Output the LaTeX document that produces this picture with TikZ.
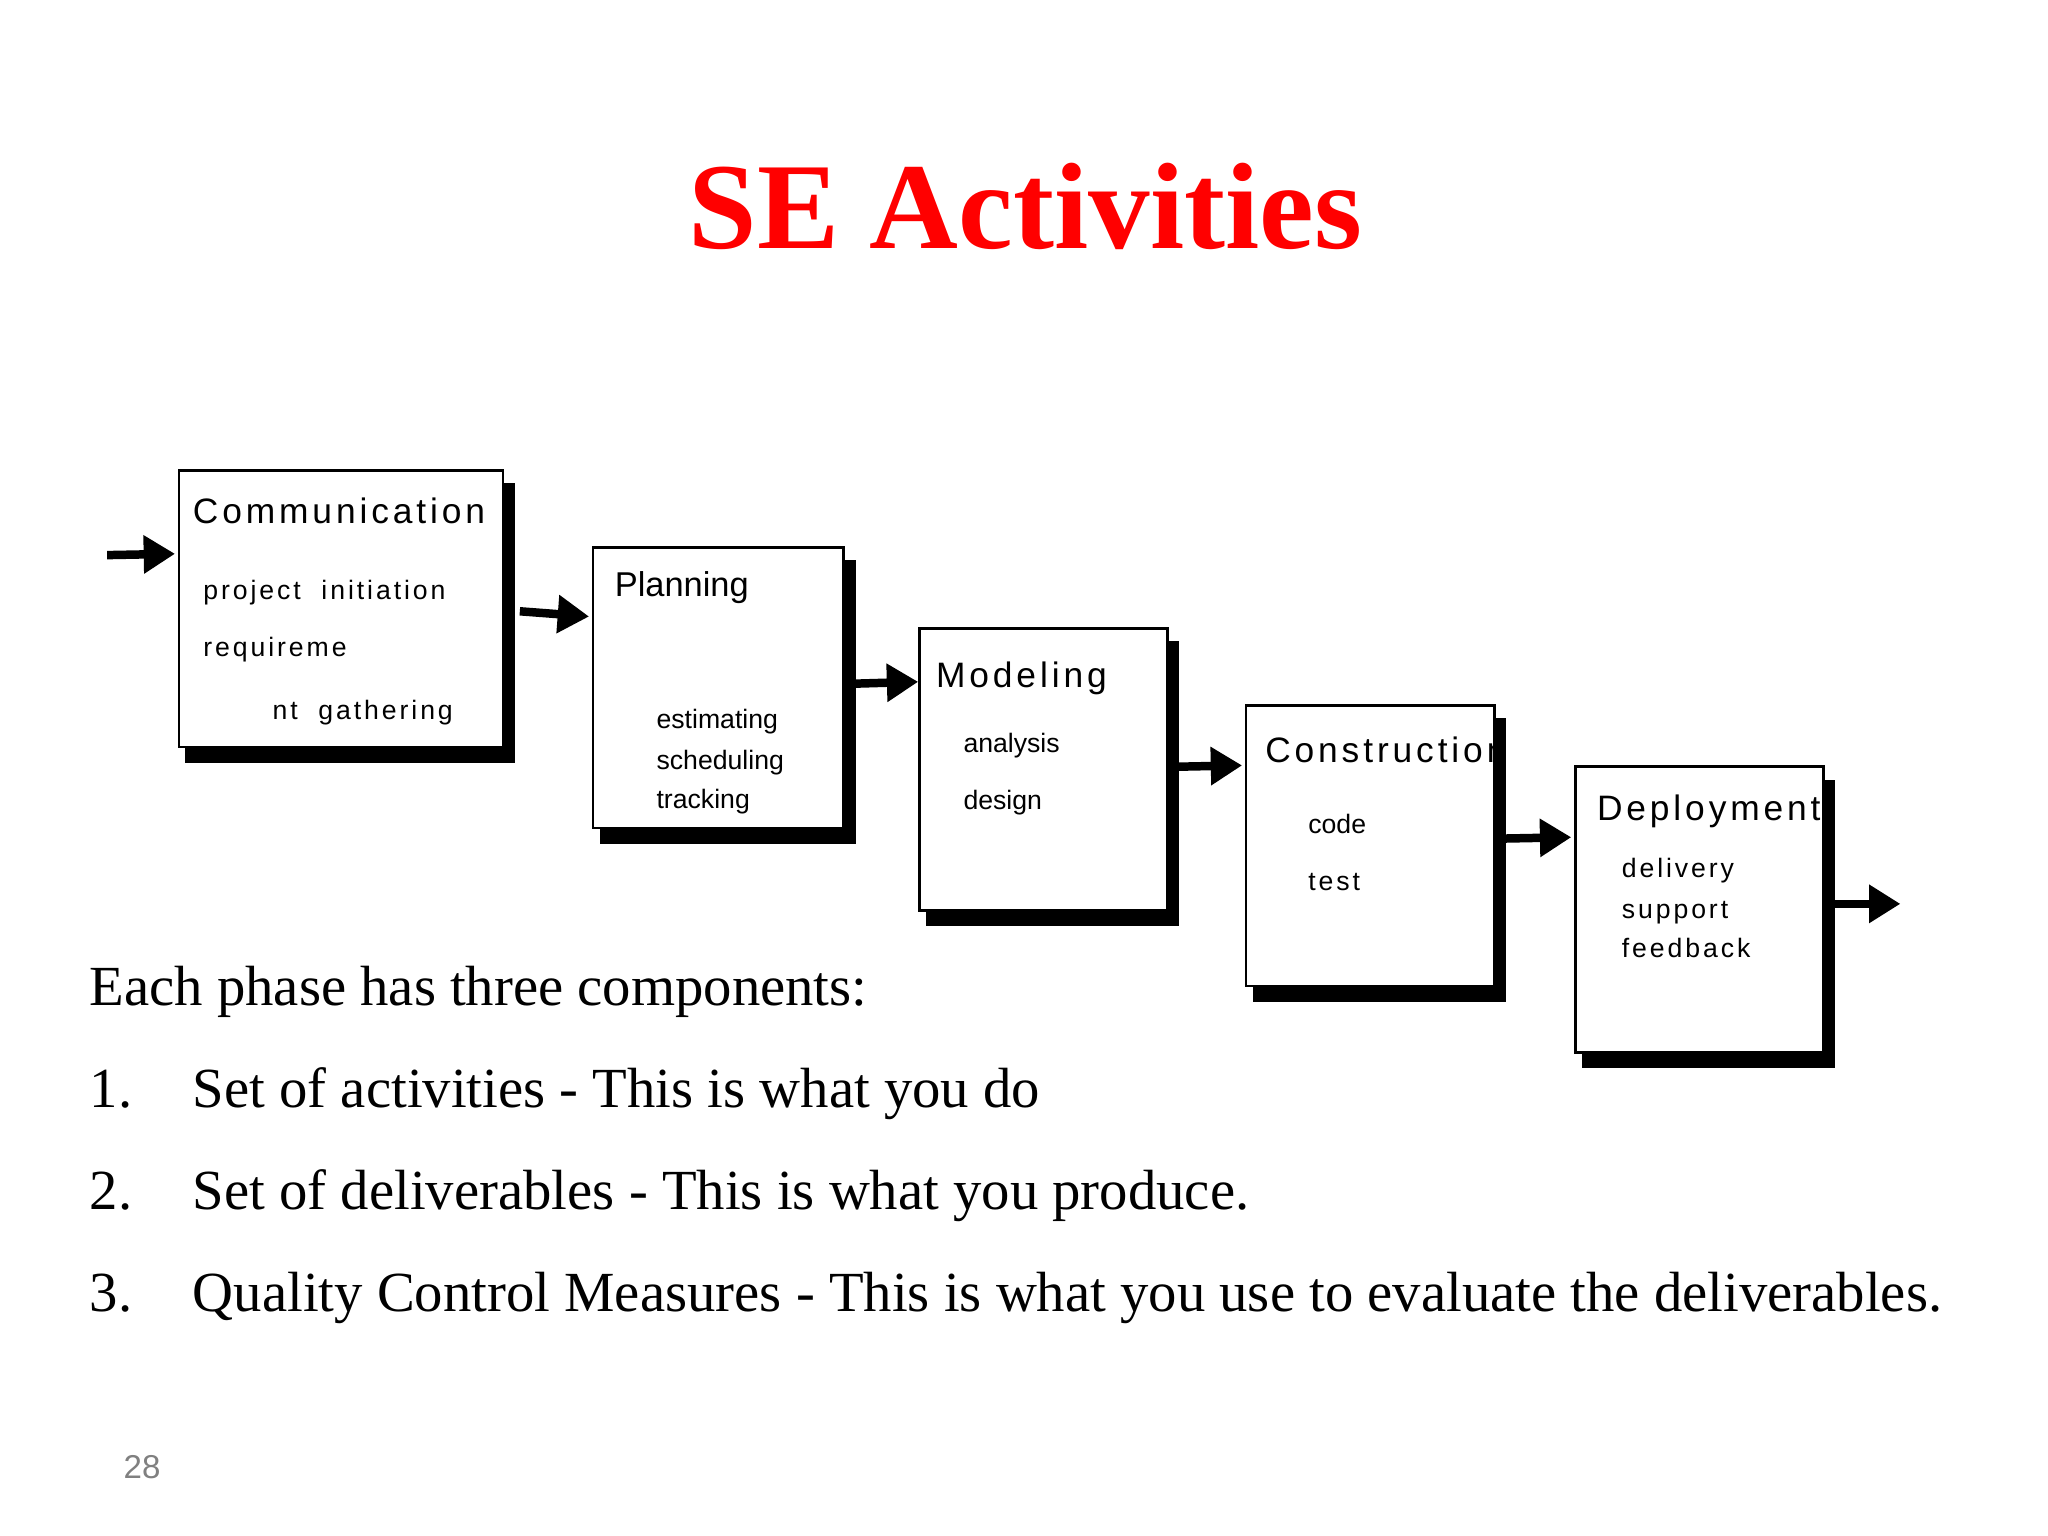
\documentclass[tikz,border=0pt]{standalone}
\usepackage{fontspec}
\setmainfont{Liberation Serif}
\newfontfamily\boxfont{Liberation Sans}
\newfontfamily\boxfontsp[LetterSpace=11]{Liberation Sans}
\usetikzlibrary{positioning,arrows.meta}

% black drop shade on the right and bottom of a phase box
\newcommand\boxshade[1]{%
  \fill ([shift={(0,11)}]#1.north east) rectangle ([shift={(8,11)}]#1.south east);
  \fill ([shift={(6,0)}]#1.south west) rectangle ([shift={(8,11)}]#1.south east);}

\begin{document}
\begin{tikzpicture}[x=0.1mm,y=-0.1mm,
  phasebox/.style={draw, line width=0.2mm, fill=white, inner sep=0},
  ttl/.style={anchor=base west, inner sep=0, font=\boxfont\fontsize{7.5}{9}\selectfont},
  ttlsp/.style={anchor=base west, inner sep=0, font=\boxfontsp\fontsize{7.7}{9}\selectfont},
  item/.style={anchor=base west, inner sep=0, font=\boxfont\fontsize{5.8}{7}\selectfont},
  itemsp/.style={anchor=base west, inner sep=0, font=\boxfontsp\fontsize{5.8}{7}\selectfont},
  flow/.style={line width=0.65mm, -{Triangle[length=2.4mm, width=2.8mm]}},
  body/.style={anchor=base west, inner sep=0, font=\fontsize{12.35}{14}\selectfont}]

\useasboundingbox (0,0) rectangle (1568,1176);

% Title
\node[anchor=base, inner sep=0, text=red, font=\bfseries\fontsize{26.8}{30}\selectfont]
  (title) at (785,190) {SE Activities};

% Phase boxes
\node[phasebox, minimum width=24.8mm, minimum height=21.2mm] (comm)  at (261,466) {};
\node[phasebox, minimum width=19.2mm, minimum height=21.5mm] (plan)  at (550,526.5) {};
\node[phasebox, minimum width=19.0mm, minimum height=21.6mm] (model) at (799,589) {};
\node[phasebox, minimum width=19.0mm, minimum height=21.5mm] (cons)  at (1049,647.5) {};
\node[phasebox, minimum width=19.0mm, minimum height=21.9mm] (dep)   at (1301,696.5) {};

% Box texts
\node[ttlsp] (commT) at (147,401) {Communication};
\node[itemsp] (commA) at (155,459) {project\ \ initiation};
\node[itemsp] (commB) at (155,503) {requireme};
\node[itemsp] (commC) at (208,551) {nt\ \ gathering};

\node[ttl] (planT) at (470,457) {Planning};
\node[item] (planA) at (502,558) {estimating};
\node[item] (planB) at (502,589) {scheduling};
\node[item] (planC) at (502,619) {tracking};

\node[ttlsp] (modelT) at (716,526) {Modeling};
\node[item] (modelA) at (737,576) {analysis};
\node[item] (modelB) at (737,620) {design};

\node[ttlsp] (consT) at (968,584) {Construction};
\node[item] (consA) at (1001,638) {code};
\node[itemsp] (consB) at (1001,682) {test};

\node[ttlsp] (depT) at (1222,628) {Deployment};
\node[itemsp] (depA) at (1241,672) {delivery};
\node[itemsp] (depB) at (1241,703) {support};
\node[itemsp] (depC) at (1241,733) {feedback};

% Shades go over the texts
\boxshade{comm}
\boxshade{plan}
\boxshade{model}
\boxshade{cons}
\boxshade{dep}

% Flow arrows
\coordinate (in)  at (82,425);
\coordinate (out) at (1455,692);
\draw[flow] (in) -- ([shift={(-2,65)}]comm.north west);
\draw[flow] ([shift={(12,2)}]comm.east) -- ([shift={(-2,54)}]plan.north west);
\draw[flow] ([shift={(5,-3)}]plan.east) -- ([shift={(0,42)}]model.north west);
\draw[flow] ([shift={(7,-2)}]model.east) -- ([shift={(-2,47)}]cons.north west);
\draw[flow] ([shift={(7,-5.5)}]cons.east) -- ([shift={(-2,55)}]dep.north west);
\draw[flow] ([shift={(8,-4.5)}]dep.east) -- (out);

% Lower text
\node[body] (lead) at (68,770) {Each phase has three components:};
\node[body] (n1) at (68,848)  {1.};
\node[body] (t1) at (147,848) {Set of activities - This is what you do};
\node[body] (n2) at (68,926)  {2.};
\node[body] (t2) at (147,926) {Set of deliverables - This is what you produce.};
\node[body] (n3) at (68,1004) {3.};
\node[body] (t3) at (147,1004) {Quality Control Measures - This is what you use to evaluate the deliverables.};

% Page number
\node[anchor=base west, inner sep=0, text=gray, font=\boxfont\fontsize{7.2}{9}\selectfont]
  (page) at (94,1132) {28};

\end{tikzpicture}
\end{document}
